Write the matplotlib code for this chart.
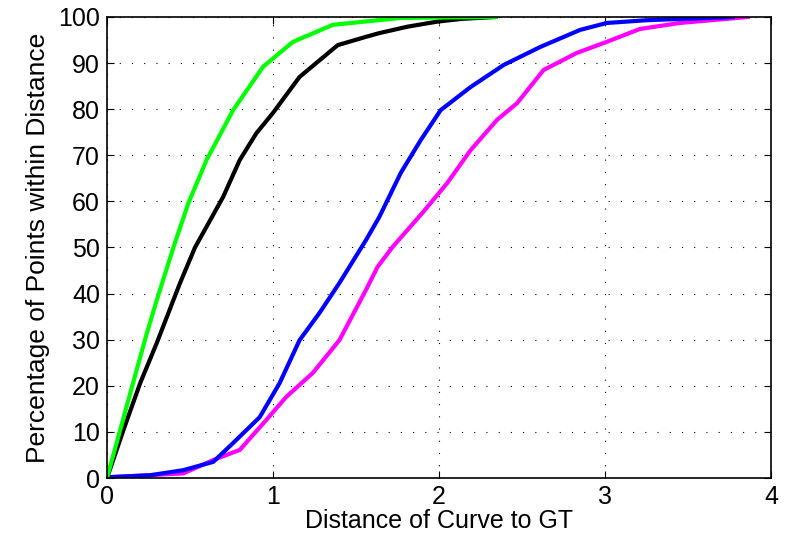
import matplotlib
matplotlib.use('Agg')
import matplotlib.pyplot as plt

# curves (distance, percent)
green_x = [0, 0.08, 0.16, 0.24, 0.30, 0.40, 0.49, 0.60, 0.76, 0.94, 1.12, 1.36, 1.77, 2.34]
green_y = [0, 10.5, 21, 31.4, 38.6, 50, 59.6, 69, 79.8, 89.2, 94.6, 98.3, 99.8, 100]

black_x = [0, 0.10, 0.20, 0.30, 0.40, 0.44, 0.53, 0.70, 0.80, 0.90, 1.00, 1.16, 1.39, 1.56, 1.64,
           1.81, 1.99, 2.14, 2.34]
black_y = [0, 10.5, 20.6, 29.3, 38.6, 42.3, 50, 61, 69, 74.8, 79.2, 87, 93.9, 95.7, 96.5,
           97.9, 99, 99.6, 100]

blue_x = [0.02, 0.26, 0.46, 0.64, 0.76, 0.92, 1.04, 1.16, 1.28, 1.40, 1.56, 1.64, 1.77, 1.89, 2.01,
          2.19, 2.39, 2.61, 2.85, 3.01, 3.25, 3.77]
blue_y = [0.2, 0.6, 1.7, 3.5, 7.6, 13.2, 20.6, 29.9, 35.8, 42.3, 51.6, 56.6, 66.2, 73.3, 79.8,
          84.8, 89.6, 93.5, 97.2, 98.7, 99.3, 100]

magenta_x = [0.04, 0.46, 0.64, 0.80, 0.96, 1.08, 1.24, 1.40, 1.56, 1.63, 1.72, 1.90, 2.05, 2.19,
             2.35, 2.47, 2.63, 2.83, 3.01, 3.21, 3.45, 3.86]
magenta_y = [0.2, 1, 3.9, 6.1, 12.6, 17.6, 22.8, 29.9, 40.8, 45.8, 50.1, 57.5, 64, 71.1,
             77.7, 81.3, 88.5, 92.2, 94.6, 97.4, 98.7, 100]

x_ticks = [0, 1, 2, 3, 4]
y_ticks = list(range(0, 101, 10))

plt.rcParams['font.family'] = ['Liberation Sans', 'DejaVu Sans']

fig = plt.figure(figsize=(7.95, 5.46), dpi=100)
ax = fig.add_axes([107 / 795, 1 - 478 / 546, 664 / 795, 461 / 546])

lw = 3
ax.plot(magenta_x, magenta_y, color='#ff00ff', lw=lw)
ax.plot(blue_x, blue_y, color='#0000ff', lw=lw)
ax.plot(black_x, black_y, color='black', lw=lw)
ax.plot(green_x, green_y, color='#00ff00', lw=lw)

ax.set_xlim(0, 4)
ax.set_ylim(0, 100)
ax.set_xticks(x_ticks)
ax.set_yticks(y_ticks)
ax.tick_params(direction='in', length=5, width=0.8, labelsize=18, top=True, right=True,
               labeltop=False, labelright=False, pad=5)
ax.grid(True, color='black', linestyle=(0, (1, 10)), linewidth=0.8)
for s in ax.spines.values():
    s.set_linewidth(1.2)

ax.set_xlabel('Distance of Curve to GT', fontsize=18, labelpad=0)
ax.set_ylabel('Percentage of Points within Distance', fontsize=19, labelpad=6)

fig.savefig('out.png', dpi=100)
